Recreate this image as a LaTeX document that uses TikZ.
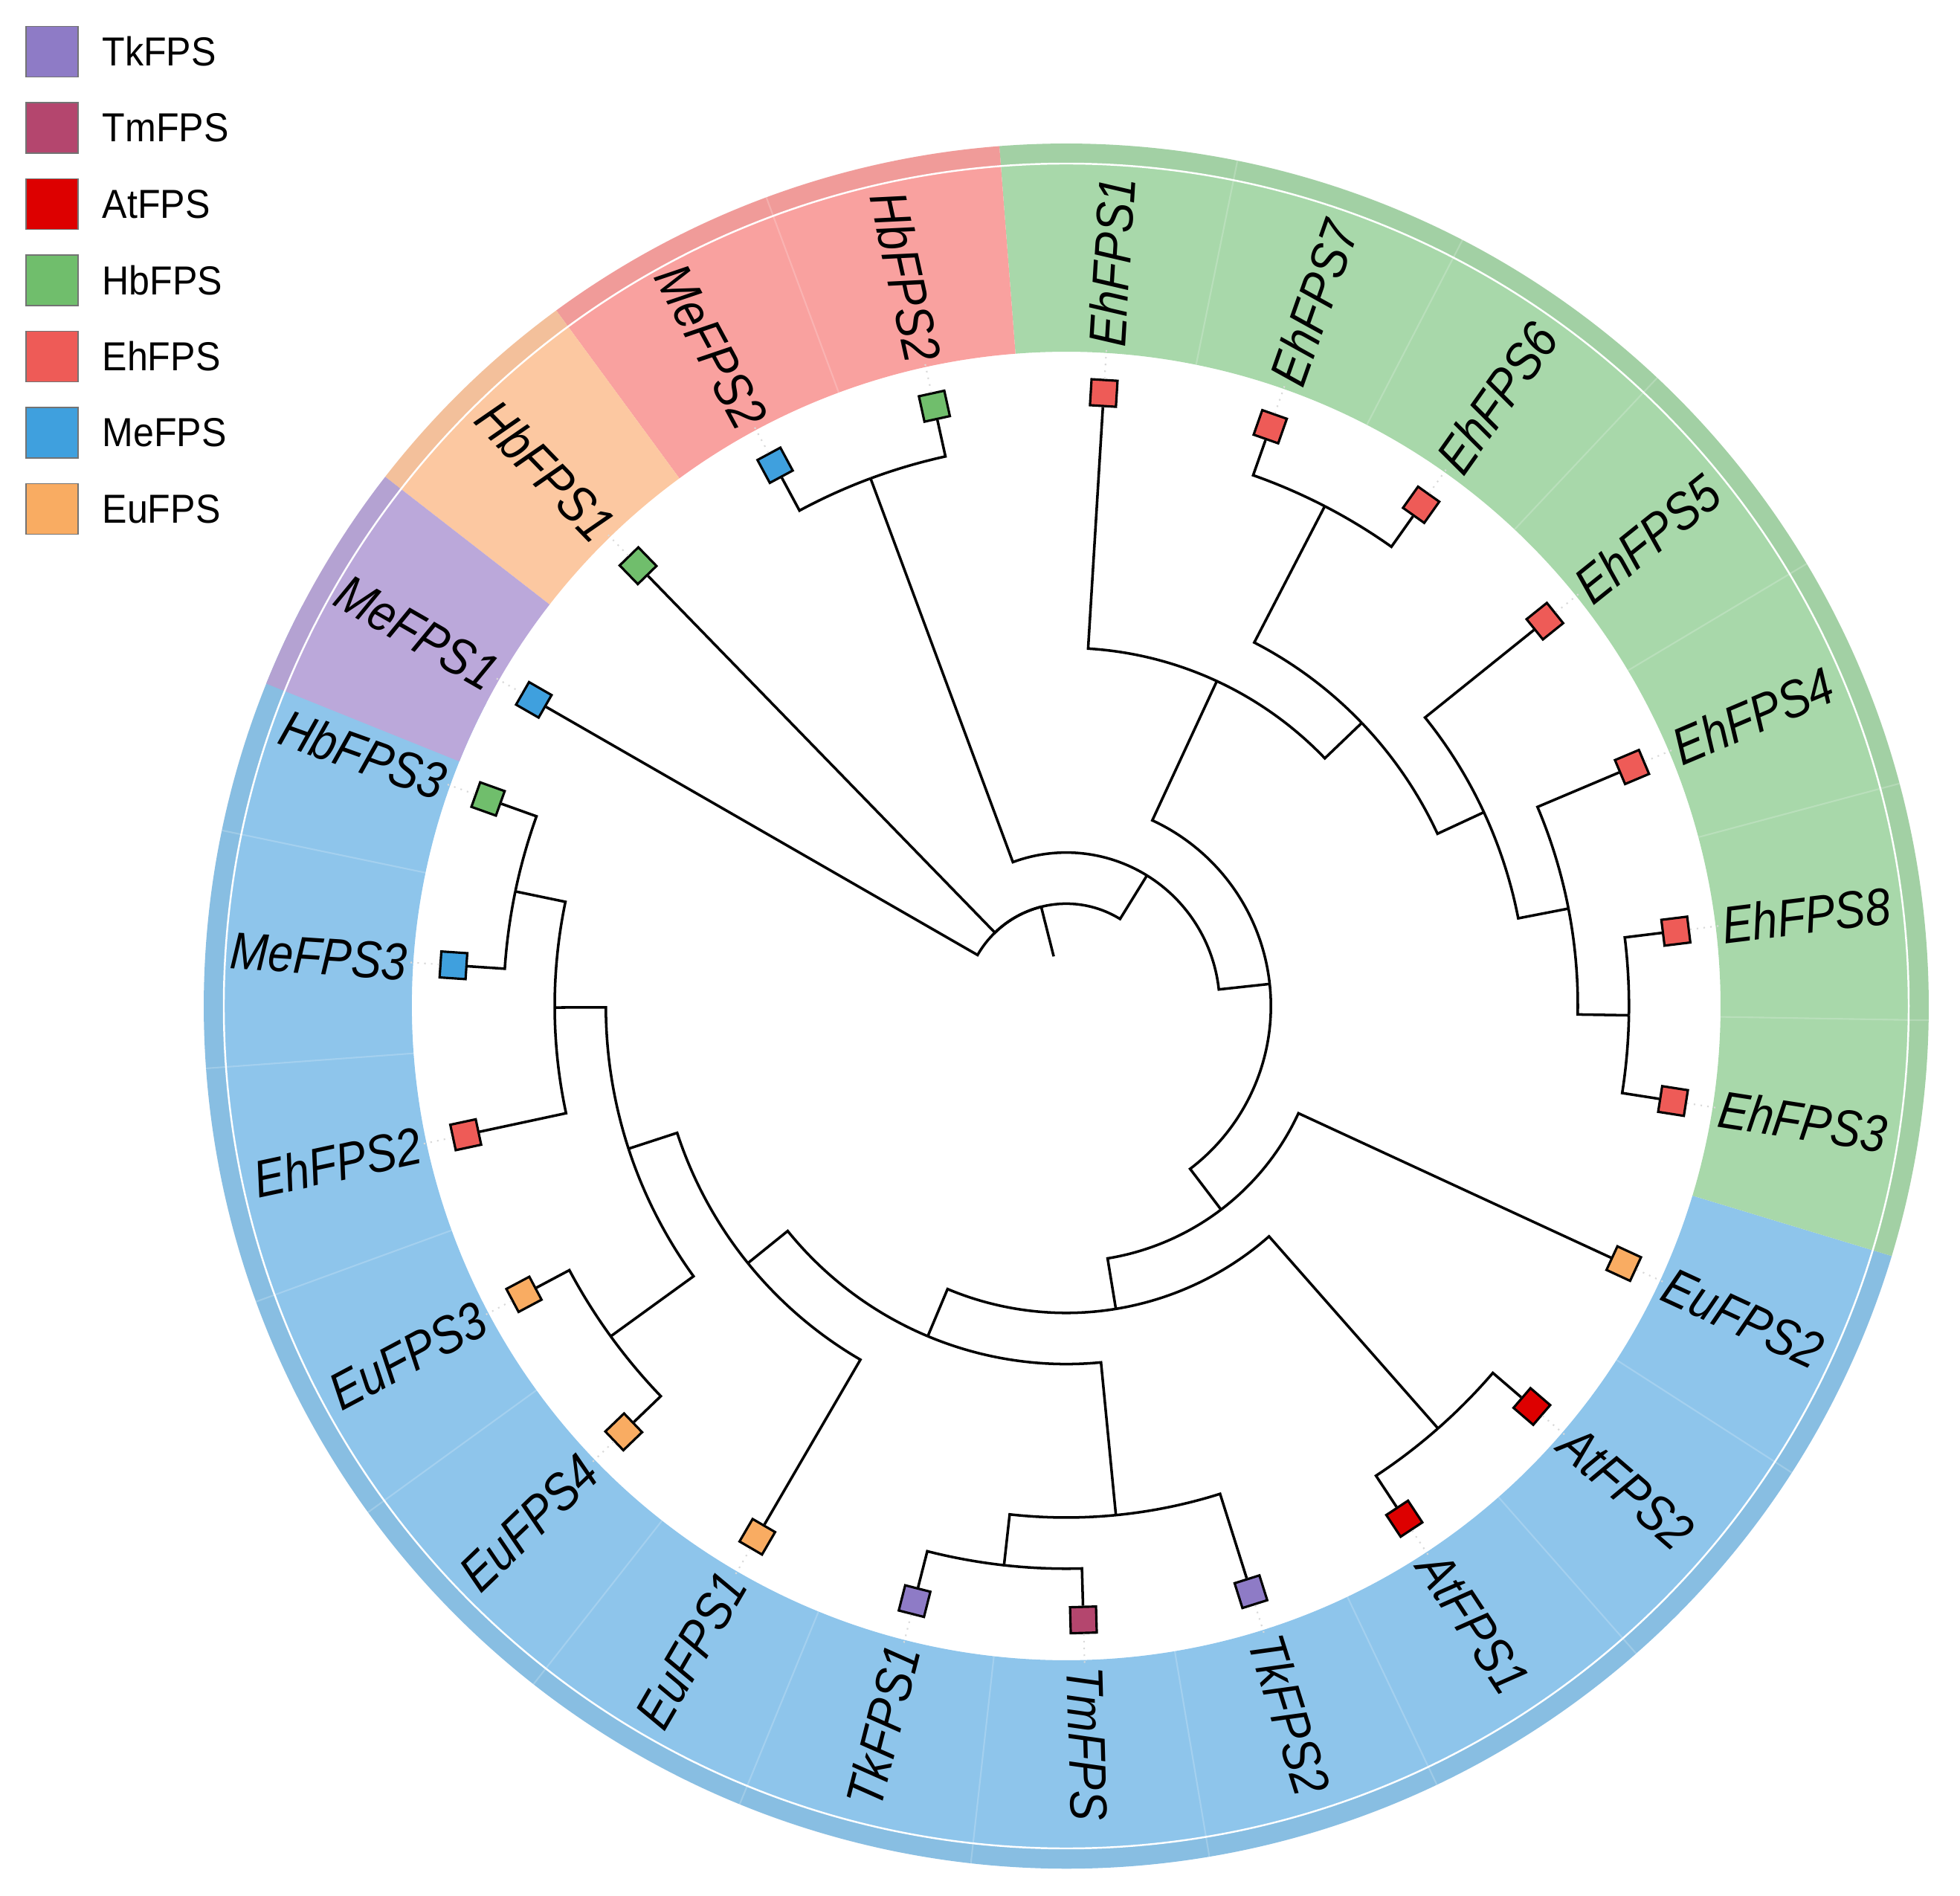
\documentclass[tikz,border=0pt]{standalone}
\usepackage{fontspec}
\setmainfont{Liberation Sans}
\newfontfamily\lblfont{Liberation Sans}[FakeStretch=0.87]
\newfontfamily\legfont{Liberation Sans}[FakeStretch=0.92]

\definecolor{tk}{HTML}{8E7BC6}
\definecolor{tm}{HTML}{B4466E}
\definecolor{at}{HTML}{DD0000}
\definecolor{hb}{HTML}{70BE6C}
\definecolor{eh}{HTML}{EE5B57}
\definecolor{me}{HTML}{3FA0DE}
\definecolor{eu}{HTML}{F9AC62}
\definecolor{ringblue}{HTML}{8EC5EB}
\definecolor{ringgreen}{HTML}{A8D8AA}
\definecolor{ringpink}{HTML}{F9A19F}
\definecolor{ringorange}{HTML}{FCC8A1}
\definecolor{ringpurple}{HTML}{BBA8DA}

\begin{document}
\begin{tikzpicture}[
  branch/.style={line width=1pt},
  leaf/.style={draw, rectangle, line width=0.9pt, minimum size=0.35cm, inner sep=0pt},
  lbl/.style={font=\lblfont\itshape\fontsize{20}{24}\selectfont, inner sep=0pt},
  guide/.style={gray!30, dotted, line width=0.6pt},
  sepline/.style={white, opacity=0.2, line width=0.6pt},
  legbox/.style={draw=black!55, line width=0.5pt, minimum width=0.7cm, minimum height=0.68cm, inner sep=0pt},
  legtext/.style={font=\legfont\fontsize{15.5}{18}\selectfont, inner sep=0pt, anchor=west}
]
  \useasboundingbox (-14.34,-11.96) rectangle (12.02,13.53);

  % coloured ring
  \fill[ringblue] (-207.65:8.8) arc[start angle=-207.65, end angle=-16.85, radius=8.8] -- (-16.85:11.6) arc[start angle=-16.85, end angle=-207.65, radius=11.6] -- cycle;
  \fill[ringgreen] (-16.85:8.8) arc[start angle=-16.85, end angle=94.45, radius=8.8] -- (94.45:11.6) arc[start angle=94.45, end angle=-16.85, radius=11.6] -- cycle;
  \fill[ringpink] (94.45:8.8) arc[start angle=94.45, end angle=126.25, radius=8.8] -- (126.25:11.6) arc[start angle=126.25, end angle=94.45, radius=11.6] -- cycle;
  \fill[ringorange] (126.25:8.8) arc[start angle=126.25, end angle=142.15, radius=8.8] -- (142.15:11.6) arc[start angle=142.15, end angle=126.25, radius=11.6] -- cycle;
  \fill[ringpurple] (142.15:8.8) arc[start angle=142.15, end angle=158.05, radius=8.8] -- (158.05:11.6) arc[start angle=158.05, end angle=142.15, radius=11.6] -- cycle;
  \fill[black, opacity=0.035, even odd rule] (0,0) circle[radius=11.6] (0,0) circle[radius=11.33];
  \draw[white, line width=0.7pt] (0,0) circle[radius=11.33];
  \draw[sepline] (78.55:8.8) -- (78.55:11.6) (62.65:8.8) -- (62.65:11.6) (46.75:8.8) -- (46.75:11.6)
    (30.85:8.8) -- (30.85:11.6) (14.95:8.8) -- (14.95:11.6) (-0.95:8.8) -- (-0.95:11.6)
    (110.35:8.8) -- (110.35:11.6) (-32.75:8.8) -- (-32.75:11.6) (-48.65:8.8) -- (-48.65:11.6)
    (-64.55:8.8) -- (-64.55:11.6) (-80.45:8.8) -- (-80.45:11.6) (-96.35:8.8) -- (-96.35:11.6)
    (-112.25:8.8) -- (-112.25:11.6) (-128.15:8.8) -- (-128.15:11.6) (-144.05:8.8) -- (-144.05:11.6)
    (-159.95:8.8) -- (-159.95:11.6) (-175.85:8.8) -- (-175.85:11.6) (-191.75:8.8) -- (-191.75:11.6);

  % leaves
  \node[leaf, fill=me, rotate=150.1] (MeFPS1) at (150.1:8.26) {};
  \node[leaf, fill=hb, rotate=134.2] (HbFPS1) at (134.2:8.26) {};
  \node[leaf, fill=me, rotate=118.3] (MeFPS2) at (118.3:8.26) {};
  \node[leaf, fill=hb, rotate=102.4] (HbFPS2) at (102.4:8.26) {};
  \node[leaf, fill=eh, rotate=86.5] (EhFPS1) at (86.5:8.26) {};
  \node[leaf, fill=eh, rotate=70.6] (EhFPS7) at (70.6:8.26) {};
  \node[leaf, fill=eh, rotate=54.7] (EhFPS6) at (54.7:8.26) {};
  \node[leaf, fill=eh, rotate=38.8] (EhFPS5) at (38.8:8.26) {};
  \node[leaf, fill=eh, rotate=22.9] (EhFPS4) at (22.9:8.26) {};
  \node[leaf, fill=eh, rotate=7.0] (EhFPS8) at (7.0:8.26) {};
  \node[leaf, fill=eh, rotate=-8.9] (EhFPS3) at (-8.9:8.26) {};
  \node[leaf, fill=eu, rotate=-24.8] (EuFPS2) at (-24.8:8.26) {};
  \node[leaf, fill=at, rotate=-40.7] (AtFPS2) at (-40.7:8.26) {};
  \node[leaf, fill=at, rotate=-56.6] (AtFPS1) at (-56.6:8.26) {};
  \node[leaf, fill=tk, rotate=-72.5] (TkFPS2) at (-72.5:8.26) {};
  \node[leaf, fill=tm, rotate=-88.4] (TmFPS) at (-88.4:8.26) {};
  \node[leaf, fill=tk, rotate=-104.3] (TkFPS1) at (-104.3:8.26) {};
  \node[leaf, fill=eu, rotate=-120.2] (EuFPS1) at (-120.2:8.26) {};
  \node[leaf, fill=eu, rotate=-136.1] (EuFPS4) at (-136.1:8.26) {};
  \node[leaf, fill=eu, rotate=-152.0] (EuFPS3) at (-152.0:8.26) {};
  \node[leaf, fill=eh, rotate=-167.9] (EhFPS2) at (-167.9:8.26) {};
  \node[leaf, fill=me, rotate=-183.8] (MeFPS3) at (-183.8:8.26) {};
  \node[leaf, fill=hb, rotate=-199.7] (HbFPS3) at (-199.7:8.26) {};

  % labels
  \node[lbl, anchor=east, rotate=-29.9] (MeFPS1-l) at (150.1:8.88) {MeFPS1};
  \node[lbl, anchor=east, rotate=-45.8] (HbFPS1-l) at (134.2:8.88) {HbFPS1};
  \node[lbl, anchor=east, rotate=-61.7] (MeFPS2-l) at (118.3:8.88) {MeFPS2};
  \node[lbl, anchor=east, rotate=-77.6] (HbFPS2-l) at (102.4:8.88) {HbFPS2};
  \node[lbl, anchor=west, rotate=86.5] (EhFPS1-l) at (86.5:8.88) {EhFPS1};
  \node[lbl, anchor=west, rotate=70.6] (EhFPS7-l) at (70.6:8.88) {EhFPS7};
  \node[lbl, anchor=west, rotate=54.7] (EhFPS6-l) at (54.7:8.88) {EhFPS6};
  \node[lbl, anchor=west, rotate=38.8] (EhFPS5-l) at (38.8:8.88) {EhFPS5};
  \node[lbl, anchor=west, rotate=22.9] (EhFPS4-l) at (22.9:8.88) {EhFPS4};
  \node[lbl, anchor=west, rotate=7.0] (EhFPS8-l) at (7.0:8.88) {EhFPS8};
  \node[lbl, anchor=west, rotate=-8.9] (EhFPS3-l) at (-8.9:8.88) {EhFPS3};
  \node[lbl, anchor=west, rotate=-24.8] (EuFPS2-l) at (-24.8:8.88) {EuFPS2};
  \node[lbl, anchor=west, rotate=-40.7] (AtFPS2-l) at (-40.7:8.88) {AtFPS2};
  \node[lbl, anchor=west, rotate=-56.6] (AtFPS1-l) at (-56.6:8.88) {AtFPS1};
  \node[lbl, anchor=west, rotate=-72.5] (TkFPS2-l) at (-72.5:8.88) {TkFPS2};
  \node[lbl, anchor=west, rotate=-88.4] (TmFPS-l) at (-88.4:8.88) {TmFPS};
  \node[lbl, anchor=east, rotate=75.7] (TkFPS1-l) at (-104.3:8.88) {TkFPS1};
  \node[lbl, anchor=east, rotate=59.8] (EuFPS1-l) at (-120.2:8.88) {EuFPS1};
  \node[lbl, anchor=east, rotate=43.9] (EuFPS4-l) at (-136.1:8.88) {EuFPS4};
  \node[lbl, anchor=east, rotate=28.0] (EuFPS3-l) at (-152.0:8.88) {EuFPS3};
  \node[lbl, anchor=east, rotate=12.1] (EhFPS2-l) at (-167.9:8.88) {EhFPS2};
  \node[lbl, anchor=east, rotate=-3.8] (MeFPS3-l) at (-183.8:8.88) {MeFPS3};
  \node[lbl, anchor=east, rotate=-19.7] (HbFPS3-l) at (-199.7:8.88) {HbFPS3};

  \draw[guide] (MeFPS1) -- (MeFPS1-l);
  \draw[guide] (HbFPS1) -- (HbFPS1-l);
  \draw[guide] (MeFPS2) -- (MeFPS2-l);
  \draw[guide] (HbFPS2) -- (HbFPS2-l);
  \draw[guide] (EhFPS1) -- (EhFPS1-l);
  \draw[guide] (EhFPS7) -- (EhFPS7-l);
  \draw[guide] (EhFPS6) -- (EhFPS6-l);
  \draw[guide] (EhFPS5) -- (EhFPS5-l);
  \draw[guide] (EhFPS4) -- (EhFPS4-l);
  \draw[guide] (EhFPS8) -- (EhFPS8-l);
  \draw[guide] (EhFPS3) -- (EhFPS3-l);
  \draw[guide] (EuFPS2) -- (EuFPS2-l);
  \draw[guide] (AtFPS2) -- (AtFPS2-l);
  \draw[guide] (AtFPS1) -- (AtFPS1-l);
  \draw[guide] (TkFPS2) -- (TkFPS2-l);
  \draw[guide] (TmFPS) -- (TmFPS-l);
  \draw[guide] (TkFPS1) -- (TkFPS1-l);
  \draw[guide] (EuFPS1) -- (EuFPS1-l);
  \draw[guide] (EuFPS4) -- (EuFPS4-l);
  \draw[guide] (EuFPS3) -- (EuFPS3-l);
  \draw[guide] (EhFPS2) -- (EhFPS2-l);
  \draw[guide] (MeFPS3) -- (MeFPS3-l);
  \draw[guide] (HbFPS3) -- (HbFPS3-l);

  % inner nodes of the tree
  \coordinate (stem) at (104.19:0.688);
  \coordinate (root) at (104.19:1.376);
  \coordinate (n1) at (58.27:2.064);
  \coordinate (n2) at (6.19:2.752);
  \coordinate (n4) at (-52.75:3.44);
  \coordinate (n10) at (-80.70:4.128);
  \coordinate (n3) at (65.13:4.816);
  \coordinate (n11) at (-112.75:4.816);
  \coordinate (n5) at (43.77:5.504);
  \coordinate (n13) at (-141.07:5.504);
  \coordinate (n7) at (24.89:6.192);
  \coordinate (n16) at (-161.94:6.192);
  \coordinate (n8) at (10.98:6.88);
  \coordinate (n14) at (-84.43:6.88);
  \coordinate (n17) at (-179.83:6.88);
  \coordinate (nA) at (110.35:7.568);
  \coordinate (n6) at (62.65:7.568);
  \coordinate (n9) at (-0.95:7.568);
  \coordinate (n12) at (-48.65:7.568);
  \coordinate (n15) at (-96.35:7.568);
  \coordinate (n18) at (-144.05:7.568);
  \coordinate (n19) at (-191.75:7.568);

  \draw[branch] (stem) -- (root);
  \draw[branch] (root) arc[start angle=104.19, end angle=150.1, radius=1.376] -- (MeFPS1);
  \draw[branch] (root) arc[start angle=104.19, end angle=134.2, radius=1.376] -- (HbFPS1);
  \draw[branch] (root) arc[start angle=104.19, end angle=58.27, radius=1.376] -- (n1);
  \draw[branch] (n1) arc[start angle=58.27, end angle=110.35, radius=2.064] -- (nA);
  \draw[branch] (n1) arc[start angle=58.27, end angle=6.19, radius=2.064] -- (n2);
  \draw[branch] (nA) arc[start angle=110.35, end angle=118.3, radius=7.568] -- (MeFPS2);
  \draw[branch] (nA) arc[start angle=110.35, end angle=102.4, radius=7.568] -- (HbFPS2);
  \draw[branch] (n2) arc[start angle=6.19, end angle=65.13, radius=2.752] -- (n3);
  \draw[branch] (n2) arc[start angle=6.19, end angle=-52.75, radius=2.752] -- (n4);
  \draw[branch] (n3) arc[start angle=65.13, end angle=86.5, radius=4.816] -- (EhFPS1);
  \draw[branch] (n3) arc[start angle=65.13, end angle=43.77, radius=4.816] -- (n5);
  \draw[branch] (n5) arc[start angle=43.77, end angle=62.65, radius=5.504] -- (n6);
  \draw[branch] (n5) arc[start angle=43.77, end angle=24.89, radius=5.504] -- (n7);
  \draw[branch] (n6) arc[start angle=62.65, end angle=70.6, radius=7.568] -- (EhFPS7);
  \draw[branch] (n6) arc[start angle=62.65, end angle=54.7, radius=7.568] -- (EhFPS6);
  \draw[branch] (n7) arc[start angle=24.89, end angle=38.8, radius=6.192] -- (EhFPS5);
  \draw[branch] (n7) arc[start angle=24.89, end angle=10.98, radius=6.192] -- (n8);
  \draw[branch] (n8) arc[start angle=10.98, end angle=22.9, radius=6.88] -- (EhFPS4);
  \draw[branch] (n8) arc[start angle=10.98, end angle=-0.95, radius=6.88] -- (n9);
  \draw[branch] (n9) arc[start angle=-0.95, end angle=7.0, radius=7.568] -- (EhFPS8);
  \draw[branch] (n9) arc[start angle=-0.95, end angle=-8.9, radius=7.568] -- (EhFPS3);
  \draw[branch] (n4) arc[start angle=-52.75, end angle=-24.8, radius=3.44] -- (EuFPS2);
  \draw[branch] (n4) arc[start angle=-52.75, end angle=-80.70, radius=3.44] -- (n10);
  \draw[branch] (n10) arc[start angle=-80.70, end angle=-48.65, radius=4.128] -- (n12);
  \draw[branch] (n10) arc[start angle=-80.70, end angle=-112.75, radius=4.128] -- (n11);
  \draw[branch] (n12) arc[start angle=-48.65, end angle=-40.7, radius=7.568] -- (AtFPS2);
  \draw[branch] (n12) arc[start angle=-48.65, end angle=-56.6, radius=7.568] -- (AtFPS1);
  \draw[branch] (n11) arc[start angle=-112.75, end angle=-84.43, radius=4.816] -- (n14);
  \draw[branch] (n11) arc[start angle=-112.75, end angle=-141.07, radius=4.816] -- (n13);
  \draw[branch] (n14) arc[start angle=-84.43, end angle=-72.5, radius=6.88] -- (TkFPS2);
  \draw[branch] (n14) arc[start angle=-84.43, end angle=-96.35, radius=6.88] -- (n15);
  \draw[branch] (n15) arc[start angle=-96.35, end angle=-88.4, radius=7.568] -- (TmFPS);
  \draw[branch] (n15) arc[start angle=-96.35, end angle=-104.3, radius=7.568] -- (TkFPS1);
  \draw[branch] (n13) arc[start angle=-141.07, end angle=-120.2, radius=5.504] -- (EuFPS1);
  \draw[branch] (n13) arc[start angle=-141.07, end angle=-161.94, radius=5.504] -- (n16);
  \draw[branch] (n16) arc[start angle=-161.94, end angle=-144.05, radius=6.192] -- (n18);
  \draw[branch] (n16) arc[start angle=-161.94, end angle=-179.83, radius=6.192] -- (n17);
  \draw[branch] (n18) arc[start angle=-144.05, end angle=-136.1, radius=7.568] -- (EuFPS4);
  \draw[branch] (n18) arc[start angle=-144.05, end angle=-152.0, radius=7.568] -- (EuFPS3);
  \draw[branch] (n17) arc[start angle=-179.83, end angle=-167.9, radius=6.88] -- (EhFPS2);
  \draw[branch] (n17) arc[start angle=-179.83, end angle=-191.75, radius=6.88] -- (n19);
  \draw[branch] (n19) arc[start angle=-191.75, end angle=-183.8, radius=7.568] -- (MeFPS3);
  \draw[branch] (n19) arc[start angle=-191.75, end angle=-199.7, radius=7.568] -- (HbFPS3);

  % legend
  \node[legbox, fill=tk] (legTk) at (-13.64, 12.835) {};
  \node[legbox, fill=tm] (legTm) at (-13.64, 12.835-1.025) {};
  \node[legbox, fill=at] (legAt) at (-13.64, 12.835-2*1.025) {};
  \node[legbox, fill=hb] (legHb) at (-13.64, 12.835-3*1.025) {};
  \node[legbox, fill=eh] (legEh) at (-13.64, 12.835-4*1.025) {};
  \node[legbox, fill=me] (legMe) at (-13.64, 12.835-5*1.025) {};
  \node[legbox, fill=eu] (legEu) at (-13.64, 12.835-6*1.025) {};
  \node[legtext] (legTk-t) at (-12.97, 12.835) {TkFPS};
  \node[legtext] (legTm-t) at (-12.97, 12.835-1.025) {TmFPS};
  \node[legtext] (legAt-t) at (-12.97, 12.835-2*1.025) {AtFPS};
  \node[legtext] (legHb-t) at (-12.97, 12.835-3*1.025) {HbFPS};
  \node[legtext] (legEh-t) at (-12.97, 12.835-4*1.025) {EhFPS};
  \node[legtext] (legMe-t) at (-12.97, 12.835-5*1.025) {MeFPS};
  \node[legtext] (legEu-t) at (-12.97, 12.835-6*1.025) {EuFPS};

\end{tikzpicture}
\end{document}
